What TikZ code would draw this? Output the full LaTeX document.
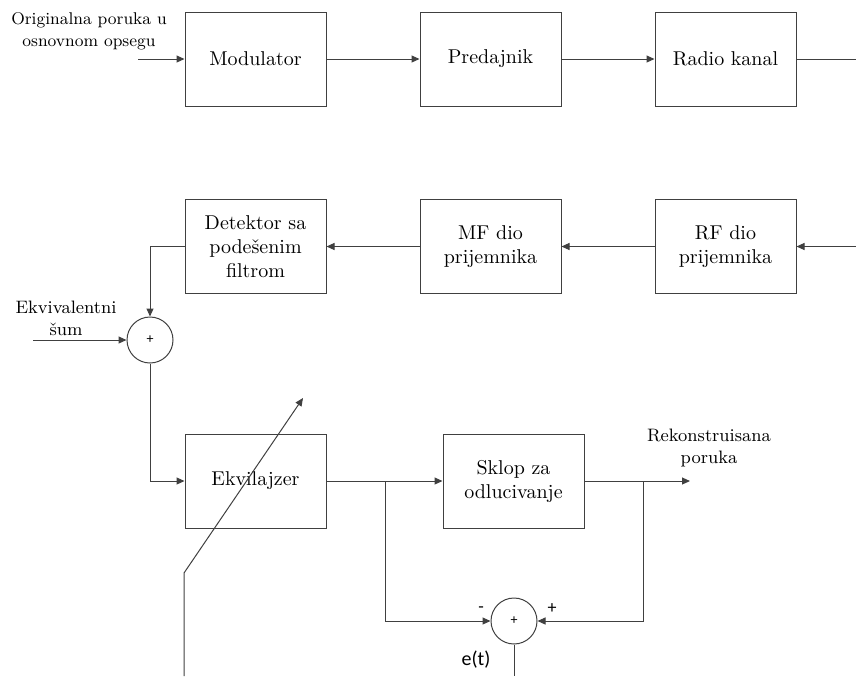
\documentclass[tikz,border=0pt]{standalone}
\usepackage{fontspec}
\newfontfamily\sans{Carlito}
\usetikzlibrary{arrows.meta}

\begin{document}
\begin{tikzpicture}[x=0.5pt,y=-0.5pt,
    blok/.style={draw=black!75,line width=0.5pt,minimum width=70.5pt,minimum height=47pt,align=center,inner sep=2pt},
    zbir/.style={draw=black!75,line width=0.5pt,circle,minimum size=23pt,inner sep=0pt,font=\sans\scriptsize},
    veza/.style={draw=black!75,line width=0.5pt},
    strel/.style={veza,-{Triangle[length=4pt,width=3.5pt]}},
    opis/.style={font=\small,align=center}]

    \useasboundingbox (0,0) rectangle (856,676);

    % Predajna strana
    \node[blok] (mod) at (255.5,59) {Modulator};
    \node[blok] (pred) at (490.5,59) {Predajnik};
    \node[blok] (radio) at (725.5,59) {Radio kanal};

    % Prijemna strana
    \node[blok] (det) at (255.5,246.5) {Detektor sa\\podešenim\\filtrom};
    \node[blok] (mf) at (490.5,246.5) {MF dio\\prijemnika};
    \node[blok] (rf) at (725.5,246.5) {RF dio\\prijemnika};
    \node[zbir] (s1) at (150,340) {+};

    % Ekvilajzer i odlucivanje
    \node[blok] (ekv) at (255.5,481) {Ekvilajzer};
    \node[blok] (sklop) at (513.5,481) {Sklop za\\odlucivanje};
    \node[zbir] (s2) at (514,621) {+};

    % Tacke
    \coordinate (ulaz) at (138,59);
    \coordinate (izlaz) at (856,59);
    \coordinate (rfulaz) at (856,246.5);
    \coordinate (sumulaz) at (33,340);
    \coordinate (grana1) at (385,481);
    \coordinate (grana2) at (643,481);
    \coordinate (rek) at (690,481);
    \coordinate (dno1) at (184,676);
    \coordinate (lom) at (184,573);
    \coordinate (vrh) at (303,398);
    \coordinate (dno2) at (514,676);

    % Veze
    \draw[strel] (ulaz) -- (mod);
    \draw[strel] (mod) -- (pred);
    \draw[strel] (pred) -- (radio);
    \draw[veza] (radio) -- (izlaz);
    \draw[strel] (rfulaz) -- (rf);
    \draw[strel] (rf) -- (mf);
    \draw[strel] (mf) -- (det);
    \draw[strel] (det.west) -| (s1.north);
    \draw[strel] (sumulaz) -- (s1);
    \draw[strel] (s1.south) |- (ekv.west);
    \draw[strel] (ekv) -- (sklop);
    \draw[strel] (sklop) -- (rek);
    \draw[strel] (grana1) |- (s2.west);
    \draw[strel] (grana2) |- (s2.east);
    \draw[veza] (s2) -- (dno2);
    \draw[strel] (dno1) -- (lom) -- (vrh);

    % Oznake
    \node[opis,font=\fontsize{8.5pt}{11pt}\selectfont] (orig) at (89,31) {Originalna poruka u\\osnovnom opsegu};
    \node[opis] (ekvsum) at (66,318) {Ekvivalentni\\šum};
    \node[opis] (rekpor) at (709,448) {Rekonstruisana\\poruka};
    \node[font=\sans\small] (minus) at (481,610) {-};
    \node[font=\sans\small] (plus) at (552,609) {+};
    \node[font=\sans] (et) at (476,660) {e(t)};

\end{tikzpicture}
\end{document}
